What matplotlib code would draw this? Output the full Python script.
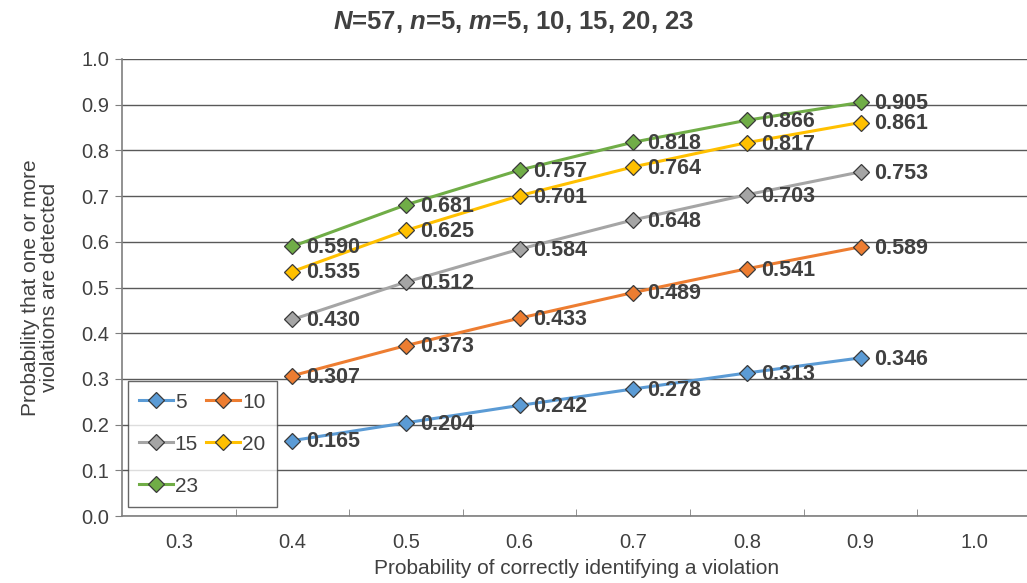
import numpy as np
import matplotlib.pyplot as plt
from matplotlib.ticker import FixedLocator, FormatStrFormatter

plt.rcParams['font.family'] = ['Liberation Sans', 'DejaVu Sans']
plt.rcParams['mathtext.fontset'] = 'custom'
plt.rcParams['mathtext.bfit'] = 'Liberation Sans:italic:bold'

# вероятность правильного распознавания нарушения
p_detect = [0.4, 0.5, 0.6, 0.7, 0.8, 0.9]

# серии для разных m
m_labels = ['5', '10', '15', '20', '23']
prob_m5 = [0.165, 0.204, 0.242, 0.278, 0.313, 0.346]
prob_m10 = [0.307, 0.373, 0.433, 0.489, 0.541, 0.589]
prob_m15 = [0.430, 0.512, 0.584, 0.648, 0.703, 0.753]
prob_m20 = [0.535, 0.625, 0.701, 0.764, 0.817, 0.861]
prob_m23 = [0.590, 0.681, 0.757, 0.818, 0.866, 0.905]
series = [prob_m5, prob_m10, prob_m15, prob_m20, prob_m23]
colors = ['#5B9BD5', '#ED7D31', '#A5A5A5', '#FFC000', '#70AD47']

text_col = '#404040'

fig = plt.figure(figsize=(10.27, 5.83), dpi=100)
ax = fig.add_axes([122 / 1027, 1 - 516 / 583, (1031 - 122) / 1027, (516 - 59) / 583])

handles = []
for lab, vals, col in zip(m_labels, series, colors):
    h, = ax.plot(p_detect, vals, color=col, lw=2.2, marker='D', ms=8,
                 markerfacecolor=col, markeredgecolor='#3a3a3a', markeredgewidth=0.9,
                 label=lab, zorder=3)
    handles.append(h)
    for x, y in zip(p_detect, vals):
        ax.annotate(f'{y:.3f}', (x, y), xytext=(10, -1), textcoords='offset points',
                    ha='left', va='center', fontsize=15.5, fontweight='bold',
                    color=text_col, zorder=4)

ax.set_xlim(0.25, 1.05)
ax.set_ylim(0, 1.0)
ax.xaxis.set_major_locator(FixedLocator(np.arange(0.3, 1.01, 0.1)))
ax.xaxis.set_minor_locator(FixedLocator(np.arange(0.35, 1.0, 0.1)))
ax.xaxis.set_major_formatter(FormatStrFormatter('%.1f'))
ax.yaxis.set_major_locator(FixedLocator(np.arange(0, 1.01, 0.1)))
ax.yaxis.set_major_formatter(FormatStrFormatter('%.1f'))
ax.tick_params(axis='x', which='major', length=0, pad=12, labelsize=14.5, labelcolor=text_col)
ax.tick_params(axis='x', which='minor', direction='in', length=5, color='#7f7f7f')
ax.tick_params(axis='y', length=5, direction='out', color='#7f7f7f', labelsize=14.5,
               labelcolor=text_col, pad=4)

ax.grid(axis='y', color='#595959', lw=1.0)
ax.set_axisbelow(True)
for side in ['top', 'right']:
    ax.spines[side].set_visible(False)
for side in ['left', 'bottom']:
    ax.spines[side].set_color('#7f7f7f')
    ax.spines[side].set_linewidth(1.2)

ax.set_xlabel('Probability of correctly identifying a violation', fontsize=15,
              color=text_col, labelpad=5)
ax.set_ylabel('Probability that one or more\nviolations are detected', fontsize=15,
              color=text_col, labelpad=16, linespacing=1.0)

fig.text(0.5, 1 - 22 / 583,
         r'$\mathbfit{N}$=57, $\mathbfit{n}$=5, $\mathbfit{m}$=5, 10, 15, 20, 23',
         ha='center', va='center', fontsize=18.5, fontweight='bold', color=text_col)

# порядок в легенде: по строкам 5,10 / 15,20 / 23
order = [0, 2, 4, 1, 3]
leg = ax.legend([handles[i] for i in order], [m_labels[i] for i in order], ncol=2,
                loc='lower left', bbox_to_anchor=(6 / 909, 9 / 457), fontsize=15,
                frameon=True, fancybox=False, borderpad=0.55, labelspacing=1.1,
                handlelength=1.6, handletextpad=0.1, columnspacing=0.4,
                labelcolor=text_col, borderaxespad=0)
leg.get_frame().set_edgecolor('#404040')
leg.get_frame().set_linewidth(1.0)

fig.savefig('out.png', dpi=100)
